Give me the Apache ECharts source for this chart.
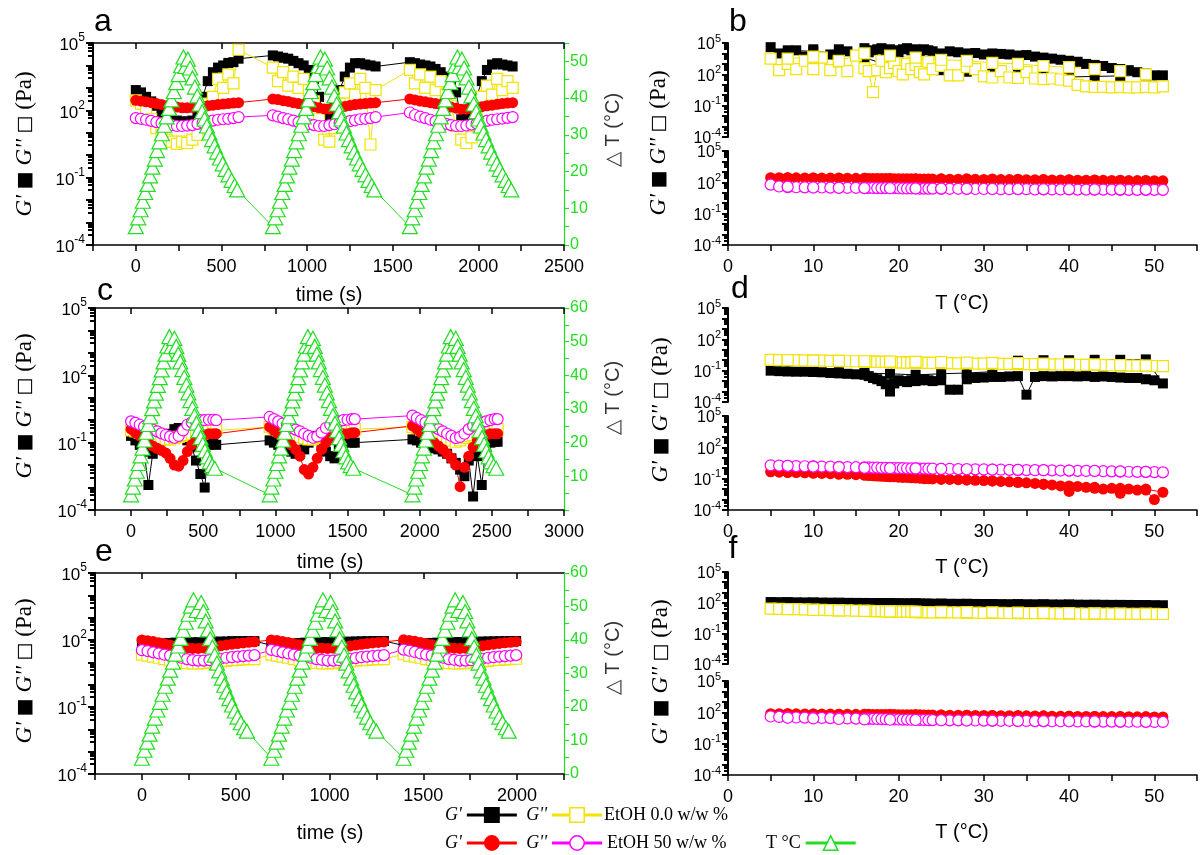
<!DOCTYPE html>
<html>
<head>
<meta charset="utf-8">
<title>G' / G'' temperature cycles</title>
<script src="https://cdn.jsdelivr.net/npm/echarts@6/dist/echarts.min.js"></script>
<style>
  html, body { margin: 0; padding: 0; background: #fff; }
  #chart { width: 1203px; height: 855px; }
</style>
</head>
<body>
<div id="chart"></div>
<script>
// ---------- time sweeps (a, c, e): 3 heating/cooling cycles ----------
// sample times inside a cycle (s) and the start time of each cycle
const timeA = [0,30,60,90,120,150,180,210,240,270,300,330,360,390,420,450,480,510,540,570,600];
const timeC = [0,30,60,90,120,150,180,210,240,270,300,330,360,390,420,450,480,510,540,570,590];
const timeE = [0,30,60,90,120,150,180,210,240,270,300,330,360,390,420,450,480,510,540,570,600];
const cycA = [0, 800, 1600];
const cycC = [0, 960, 1950];
const cycE = [0, 690, 1395];

// panel a (Pa), cycle 1 | cycle 2 | cycle 3
const gp0A = [800,630,400,250,160,80,50,40,35,32,32,35,50,400,2000,5000,8000,1e4,1.3e4,1.4e4,2e4,
  2.8e4,2.5e4,2.2e4,2e4,1.6e4,1.26e4,1e4,6300,2500,400,40,63,250,800,3200,8000,1.26e4,1.26e4,1.1e4,1e4,9000,
  1.4e4,1.26e4,1.1e4,1e4,9000,7000,5000,3200,1600,630,40,50,126,400,2000,6300,1.1e4,1.26e4,1.1e4,1e4,9000];
const gpp0A = [280,200,100,40,16,8,5,4,3.2,4,3.5,5,8,32,200,400,2500,1000,4000,1600,5e4,
  8000,2000,5000,1250,3200,1000,2500,800,250,40,5,4,16,200,630,1600,500,2500,1000,3,800,
  6300,1600,4000,1000,3200,800,2000,500,160,20,5,3.5,6.3,63,400,1250,500,2500,800,2000,1000];
const gp50A = [280,260,240,220,200,180,160,150,140,130,130,135,140,150,160,170,180,190,200,210,220,
  320,300,270,250,220,200,180,160,145,130,115,115,125,140,150,165,180,190,200,210,220,
  320,290,260,240,220,200,180,160,140,125,112,112,120,130,145,160,170,185,200,210,220];
const gpp50A = [45,42,38,34,30,27,25,22,20,20,21,22,25,28,32,35,38,40,42,45,50,
  60,52,45,40,35,30,27,24,22,20,20,22,24,27,30,33,36,40,42,45,50,
  80,62,52,45,38,33,29,25,22,20,20,21,23,26,30,34,38,40,43,46,50];

// panel c (Pa)
const gp0C = [0.2,0.126,0.08,0.04,0.0013,0.032,0.063,0.126,0.16,0.25,0.4,0.45,0.32,0.126,0.063,0.016,0.004,0.001,0.08,0.126,0.08,
  0.126,0.1,0.08,0.063,0.05,0.04,0.032,0.032,0.05,0.1,0.2,0.16,0.08,0.04,0.025,0.02,0.05,0.1,0.11,0.1,0.1,
  0.14,0.126,0.1,0.08,0.063,0.056,0.05,0.04,0.032,0.02,0.0126,0.0063,0.0032,0.016,0.0004,0.025,0.0013,0.063,0.1,0.11,0.11];
const gpp0C = [0.35,0.32,0.28,0.25,0.22,0.2,0.18,0.16,0.14,0.14,0.16,0.18,0.2,0.22,0.25,0.28,0.32,0.32,0.35,0.35,0.35,
  0.5,0.42,0.35,0.32,0.28,0.25,0.2,0.18,0.16,0.14,0.14,0.16,0.18,0.2,0.22,0.25,0.28,0.32,0.35,0.4,0.4,
  0.5,0.45,0.38,0.32,0.28,0.24,0.2,0.17,0.14,0.126,0.11,0.126,0.16,0.19,0.22,0.25,0.28,0.32,0.35,0.38,0.4];
const gp50C = [0.4,0.28,0.2,0.14,0.1,0.071,0.056,0.045,0.035,0.02,0.01,0.009,0.016,0.04,0.08,0.14,0.2,0.22,0.25,0.25,0.25,
  0.5,0.35,0.25,0.16,0.11,0.08,0.05,0.025,0.0063,0.004,0.008,0.02,0.05,0.1,0.16,0.2,0.22,0.25,0.25,0.28,0.28,
  0.56,0.4,0.28,0.2,0.14,0.1,0.071,0.05,0.032,0.02,0.01,0.0011,0.008,0.025,0.063,0.126,0.18,0.22,0.25,0.25,0.25];
const gpp50C = [0.89,0.76,0.63,0.52,0.45,0.38,0.32,0.26,0.22,0.19,0.166,0.2,0.35,0.63,0.8,0.89,1,1,1.05,1.05,1,
  1.4,1.12,0.89,0.71,0.56,0.45,0.38,0.32,0.25,0.2,0.166,0.19,0.28,0.45,0.63,0.8,0.89,1,1.05,1.12,1.12,
  1.6,1.26,1,0.8,0.63,0.5,0.4,0.32,0.25,0.2,0.16,0.18,0.25,0.4,0.56,0.71,0.8,0.89,1,1.12,1.12];

// panel e (Pa)
const gp0E = [56,60,63,66,71,74,76,79,79,79,79,79,83,83,85,85,89,89,89,89,89,
  58,60,63,66,70,73,76,78,80,80,80,80,82,83,84,86,87,88,89,90,90,
  57,61,64,67,70,74,76,78,79,80,81,81,82,83,85,86,87,88,89,90,90];
const gpp0E = [22,20,18,16,14,12.6,11,10,9.3,8.9,8.9,9.3,10,10.5,11,11.7,12.6,13,13.5,14,14,
  22,20,18,16,14,12.5,11,10,9.4,9,9,9.3,10,10.5,11,11.8,12.5,13,13.5,14,14,
  23,20,18,16,14,12.5,11,10,9.3,9,8.9,9.2,9.8,10.4,11,11.6,12.4,13,13.5,14,14.5];
const gp50E = [100,93,85,76,68,60,54,48,45,42,42,44,47,50,55,60,65,69,74,79,83,
  100,94,86,77,68,61,55,49,45,43,42,43,46,50,54,59,64,69,74,78,82,
  102,95,87,78,69,62,55,50,46,43,42,43,46,50,55,60,65,70,75,79,84];
const gpp50E = [35,32,28,25,22,20,18,16,14,12.6,12,12,12.6,13.5,14.5,16,17,18,19,20,21,
  36,32,28,25,22,20,18,16,14,13,12,12,12.5,13.5,14.5,15.5,17,18,19,20,21,
  37,33,29,25,22,20,18,16,14,13,12,12,12.5,13.5,14.5,16,17,18,19,20,21];

// temperature programme of one cycle (relative time s, deltaT °C)
const relTA = [0,14,28,41,55,69,83,97,111,124,138,152,166,180,194,208,222,236,250,264,278,290,304,
  317,331,345,359,373,387,401,415,430,445,460,475,491,507,524,541,559,577,592];
const dTA = [5,7.4,9.6,11.9,14.3,16.5,18.8,21.2,23.4,25.7,28.1,30.3,32.6,34.9,37.2,39.5,41.8,44.2,46.4,48.8,51.2,48.6,50.6,
  48.2,45.5,43.0,40.6,38.4,36.3,34.3,32.4,30.5,28.7,27.0,25.3,23.7,22.1,20.6,19.1,17.6,16.2,15.0];
const relTC = [0,13,26,40,53,66,79,93,106,119,133,146,159,172,186,199,212,225,239,252,265,280,300,
  313,327,341,355,369,383,397,411,425,439,453,467,482,497,512,528,545,562,580];
const dTC = [4.5,6.8,9.2,11.5,13.8,16.1,18.4,20.8,23.1,25.4,27.7,30.1,32.4,34.7,37.0,39.3,41.6,44.0,46.3,48.7,51.5,48.5,51.0,
  48.6,46.3,44.0,41.7,39.4,37.1,34.8,32.5,30.2,28.0,25.8,23.6,21.5,19.5,17.6,15.8,14.3,13.2,12.4];
const relTE = [0,14,28,41,55,69,83,96,110,124,138,151,165,179,193,206,220,234,248,261,275,292,316,
  328,340,352,364,376,388,400,413,426,439,452,466,480,495,510,527,545,560];
const dTE = [4.7,7.1,9.5,11.9,14.3,16.7,19.1,21.4,23.8,26.2,28.6,31.0,33.4,35.8,38.2,40.5,42.9,45.3,47.7,50.1,52.0,48.8,51.2,
  48.5,45.7,43.0,40.4,37.9,35.5,33.1,30.8,28.6,26.5,24.5,22.5,20.6,18.8,17.0,15.3,13.8,12.8];

// ---------- temperature sweeps (b, d, f): heating then cooling ----------
const sweepT = [5,6,7,8,9,10,11,12,13,14,15,16,
  16.5,17,17.5,18,18.5,19,19.5,20,20.5,21,21.5,22,22.5,23,23.5,24,
  25,26,27,28,29,30,31,32,33,34,35,36,37,38,39,40,41,42,43,44,45,46,47,48,49,50,51,
  49,46,43,40,37,34,31,28,25,22,19,16,13,10,7];

const gp0B = [4e4,1e4,4000,2e4,5000,2.5e4,4000,8000,2.5e4,1.6e4,6300,3.2e4,
  1.3e4,2e4,2.5e4,3.2e4,1.6e4,2.5e4,2e4,1.3e4,2.5e4,3.2e4,2e4,2.5e4,1.6e4,2.5e4,2e4,1.6e4,
  1e4,1.6e4,1.3e4,1e4,1.1e4,8000,1e4,9000,8000,6300,7000,5000,4000,3200,2500,2000,1600,1000,800,630,400,320,250,160,126,80,80,
  80,71,63,56,56,89,126,178,250,355,630,4000,1e4,1.6e4,2e4];
const gpp0B = [3200,250,1000,320,2000,320,4000,250,1600,200,6300,400,
  200,2,250,2000,160,400,1250,200,100,1000,320,800,160,100,1600,320,
  630,80,80,500,320,63,50,200,50,45,160,40,35,40,32,25,10,7,6.3,6.3,5.6,6.3,5.6,5.6,6.3,5.6,7,
  100,200,320,500,630,1000,1250,2000,2500,4000,6300,1e4,2000,5000,3200];
const gp50B = [280,275,270,268,265,262,258,255,250,248,245,240,
  238,235,233,230,228,226,224,222,220,218,216,214,212,210,208,206,
  205,200,198,195,192,190,188,185,182,180,178,175,172,170,168,165,162,160,158,155,152,150,148,146,144,142,140,
  150,160,170,180,190,200,210,215,220,225,235,245,255,265,275];
const gpp50B = [60,40,35,34,33,32,32,31,30,30,30,29,
  29,29,28,28,28,27,27,27,26,26,26,26,25,25,25,25,
  24,24,24,23,23,23,23,22,22,22,22,21,21,21,21,21,20,20,20,20,20,19,19,19,19,19,19,
  20,21,21,22,22,23,23,24,25,26,27,28,30,32,38];

const gp0D = [0.1,0.09,0.085,0.08,0.08,0.075,0.07,0.06,0.055,0.05,0.045,0.04,
  0.03,0.02,0.015,0.01,0.005,0.001,0.006,0.012,0.01,0.008,0.012,0.01,0.012,0.015,0.012,0.01,
  0.012,0.0015,0.0015,0.015,0.02,0.022,0.025,0.025,0.028,0.03,0.0005,0.025,0.03,0.028,0.03,0.03,0.028,0.03,0.025,0.028,0.025,0.022,0.02,0.02,0.015,0.012,0.006,
  1.2,1.1,1.1,1.0,1.0,0.9,0.08,0.06,0.05,0.04,0.05,0.06,0.07,0.08,0.09];
const gpp0D = [1.1,1.0,1.0,0.95,0.95,0.9,0.9,0.85,0.85,0.8,0.8,0.75,
  0.75,0.72,0.7,0.7,0.68,0.66,0.65,0.63,0.62,0.6,0.6,0.58,0.57,0.56,0.55,0.55,
  0.53,0.52,0.5,0.5,0.48,0.47,0.46,0.45,0.44,0.43,0.42,0.42,0.4,0.4,0.39,0.38,0.37,0.36,0.35,0.34,0.33,0.32,0.31,0.3,0.29,0.28,0.27,
  0.3,0.34,0.4,0.44,0.48,0.52,0.56,0.6,0.65,0.7,0.75,0.8,0.85,0.9,1.0];
const gp50D = [0.45,0.42,0.4,0.38,0.36,0.34,0.32,0.3,0.28,0.26,0.24,0.22,
  0.2,0.19,0.18,0.17,0.16,0.15,0.15,0.14,0.13,0.13,0.12,0.12,0.11,0.1,0.1,0.095,
  0.09,0.085,0.08,0.075,0.07,0.065,0.06,0.055,0.05,0.045,0.04,0.035,0.03,0.025,0.02,0.006,0.018,0.015,0.012,0.01,0.012,0.004,0.01,0.008,0.008,0.001,0.005,
  0.01,0.012,0.015,0.02,0.03,0.045,0.06,0.075,0.09,0.12,0.16,0.22,0.28,0.34,0.4];
const gpp50D = [1.9,1.8,1.7,1.6,1.55,1.5,1.45,1.4,1.35,1.3,1.25,1.2,
  1.2,1.15,1.15,1.1,1.1,1.05,1.05,1.0,1.0,0.98,0.96,0.95,0.93,0.92,0.9,0.9,
  0.88,0.85,0.82,0.8,0.78,0.76,0.74,0.72,0.7,0.68,0.66,0.65,0.64,0.62,0.6,0.58,0.56,0.55,0.54,0.52,0.5,0.48,0.46,0.45,0.44,0.42,0.4,
  0.45,0.5,0.55,0.6,0.65,0.7,0.75,0.8,0.85,0.95,1.0,1.1,1.3,1.45,1.7];

const gp0F = [115,112,110,108,106,104,102,100,98,96,95,94,
  93,92,91,90,89,88,87,86,85,84,84,83,82,81,80,80,
  79,78,77,76,75,74,73,72,71,70,70,69,68,67,66,65,64,63,62,62,61,60,60,59,58,57,56,
  57,60,62,65,68,71,74,77,80,84,88,92,96,101,108];
const gpp0F = [26,25,24,23,22,21,20,19,18,18,17,16,
  16,15,15,15,14,14,14,13,13,13,13,12,12,12,12,11,
  11,11,11,10.5,10.5,10,10,10,9.8,9.6,9.5,9.3,9.2,9.0,8.9,8.8,8.7,8.6,8.5,8.4,8.3,8.2,8.1,8.0,8.0,7.9,7.8,
  8,8.5,9,9.5,10,10.5,11,12,12.5,13,14,16,18,20,23];
const gp50F = [75,74,73,72,71,70,69,68,67,66,65,64,
  64,63,63,62,62,61,61,60,60,59,59,58,58,57,57,56,
  55,54,53,52,51,50,49,48,47,47,46,45,44,43,43,42,41,41,40,39,39,38,38,37,37,36,36,
  37,39,41,43,46,48,51,54,56,59,62,64,67,70,73];
const gpp50F = [40,36,34,32,31,30,29,28,27,26,25,24.5,
  24,23.5,23,22.5,22,21.5,21,20.5,20,20,19.5,19,19,18.5,18,18,
  17.5,17,17,16.5,16.5,16,16,15.5,15.5,15,15,14.5,14.5,14,14,14,13.5,13.5,13,13,13,12.5,12.5,12.5,12,12,12,
  12.5,13,13.5,14,14.5,15,16,16.5,17.5,18.5,19.5,21,23,26,30];

// axis tick positions
const topTicksA = [0,500,1000,1500,2000,2500];
const topTicksC = [0,500,1000,1500,2000,2500,3000];
const topTicksE = [0,500,1000,1500,2000];

// ---------- styling ----------
const SANS = 'Liberation Sans, Arial, sans-serif';
const SERIF = 'Liberation Serif, Times New Roman, serif';
const BLACK = '#000000', YELLOW = '#f2e400', RED = '#ff0000', MAGENTA = '#ff00ff', GREEN = '#22dd22';

const STYLE = {
  "G'0":  {symbol: 'rect', size: 10, fill: BLACK, stroke: BLACK},
  'G"0':  {symbol: 'rect', size: 11, fill: '#fff', stroke: YELLOW},
  "G'50": {symbol: 'circle', size: 11, fill: RED, stroke: RED},
  'G"50': {symbol: 'circle', size: 11, fill: '#fff', stroke: MAGENTA},
  'T':    {symbol: 'triangle', size: [15, 14], fill: '#fff', stroke: GREEN}
};
const LEGEND_TEXT = {"G'0": "G'", 'G"0': "G''", "G'50": "G'", 'G"50': "G''", 'T': 'T °C'};

function cyclePairs(starts, rel, vals) {
  const out = [];
  starts.forEach((s, k) => rel.forEach((t, i) => out.push([s + t, vals[(k * rel.length + i) % vals.length]])));
  return out;
}
function sweepPairs(vals) { return sweepT.map((t, i) => [t, vals[i]]); }

function line(name, data, xi, yi) {
  const s = STYLE[name];
  return {
    type: 'line', name, data, xAxisIndex: xi, yAxisIndex: yi,
    symbol: s.symbol, symbolSize: s.size, showAllSymbol: true,
    itemStyle: {color: s.fill, borderColor: s.stroke, borderWidth: s.fill === '#fff' ? 1.2 : 0},
    lineStyle: {color: s.stroke, width: 1},
    emphasis: {disabled: true}, animation: false
  };
}

const richBig = {
  b: {fontSize: 17, fontFamily: SANS, color: BLACK, lineHeight: 22, verticalAlign: 'bottom'},
  s: {fontSize: 12, fontFamily: SANS, color: BLACK, lineHeight: 12, verticalAlign: 'top'}
};
const richSmall = {
  b: {fontSize: 16, fontFamily: SANS, color: BLACK, lineHeight: 20, verticalAlign: 'bottom'},
  s: {fontSize: 11, fontFamily: SANS, color: BLACK, lineHeight: 11, verticalAlign: 'top'}
};
function decadeLabel(v) {
  const e = Math.round(Math.log10(v));
  return ((e % 3) + 3) % 3 === 2 ? '{b|10}{s|' + e + '}' : '';
}

function timeAxes(gridIndex, max, topTicks) {
  return [{
    type: 'value', gridIndex, min: -250, max, interval: 250, position: 'bottom',
    axisLine: {onZero: false, lineStyle: {color: BLACK, width: 1.5}},
    axisTick: {length: 6, lineStyle: {color: BLACK, width: 1.5}},
    axisLabel: {fontSize: 18, fontFamily: SANS, color: BLACK, margin: 13,
      formatter: v => (v % 500 === 0 ? String(v) : '')},
    splitLine: {show: false}
  }, {
    type: 'value', gridIndex, min: -250, max, position: 'top',
    axisLine: {onZero: false, lineStyle: {color: BLACK, width: 1.5}},
    axisTick: {inside: true, length: 6, customValues: topTicks, lineStyle: {color: BLACK, width: 1.5}},
    axisLabel: {show: false},
    splitLine: {show: false}
  }];
}
function sweepAxis(gridIndex, show) {
  return {
    type: 'value', gridIndex, min: 0, max: 55, interval: 5, show,
    axisLine: {onZero: false, lineStyle: {color: BLACK, width: 1.5}},
    axisTick: {length: 6, lineStyle: {color: BLACK, width: 1.5}},
    axisLabel: {fontSize: 18, fontFamily: SANS, color: BLACK, margin: 13,
      formatter: v => (v % 10 === 0 ? String(v) : '')},
    splitLine: {show: false}
  };
}
function logAxis(gridIndex, small) {
  return {
    type: 'log', logBase: 10, gridIndex, min: 1e-4, max: 1e5, position: 'left',
    axisLine: {onZero: false, lineStyle: {color: BLACK, width: 2}},
    axisTick: {length: small ? 6 : 7, lineStyle: {color: BLACK, width: 2}},
    minorTick: {show: true, splitNumber: 5, length: small ? 4 : 5, lineStyle: {color: BLACK, width: 2}},
    axisLabel: {margin: small ? 7 : 8, formatter: decadeLabel, rich: small ? richSmall : richBig},
    splitLine: {show: false}, minorSplitLine: {show: false}
  };
}
function tempAxis(gridIndex, max, showZero) {
  return {
    type: 'value', gridIndex, min: 0, max, interval: 5, position: 'right',
    axisLine: {show: true, onZero: false, lineStyle: {color: GREEN, width: 1.2}},
    axisTick: {length: 5, lineStyle: {color: GREEN, width: 1.2}},
    axisLabel: {fontSize: 16, fontFamily: SANS, color: GREEN, margin: 6,
      formatter: v => ((v % 10 === 0 && (showZero || v !== 0)) ? String(v) : '')},
    splitLine: {show: false}
  };
}

function gridBox(left, top, width, height) {
  return {left, top, width, height, containLabel: false, outerBoundsMode: 'none'};
}

function txt(x, y, text, size, font, align) {
  return {type: 'text', x, y, silent: true, z: 100,
    style: {text, fontSize: size, fontFamily: font || SANS, fill: BLACK, align: align || 'center', verticalAlign: 'middle'}};
}
const leftTitleRich = {
  g: {fontFamily: SERIF, fontStyle: 'italic', fontSize: 23, fill: BLACK},
  s: {fontFamily: 'DejaVu Sans', fontSize: 19, fill: BLACK},
  p: {fontFamily: SERIF, fontSize: 23, fill: BLACK}
};
function leftTitle(x, y) {
  return {type: 'text', x, y, rotation: Math.PI / 2, silent: true, z: 100,
    style: {text: "{g|G'} {s|■} {g|G''} {s|□} {p|(Pa)}", rich: leftTitleRich,
      fontSize: 23, fontFamily: SERIF, fill: BLACK, align: 'center', verticalAlign: 'middle'}};
}
function rightTitle(x, y) {
  return {type: 'text', x, y, rotation: Math.PI / 2, silent: true, z: 100,
    style: {text: '△ T (°C)', fontSize: 20, fontFamily: SANS, fill: '#333', align: 'center', verticalAlign: 'middle'}};
}

const legendBase = {
  orient: 'horizontal', align: 'right', itemWidth: 50, itemHeight: 18, itemGap: 8, padding: 0,
  selectedMode: false, lineStyle: {width: 3}, itemStyle: {borderWidth: 1.5},
  textStyle: {fontFamily: SERIF, fontSize: 18, fontStyle: 'italic', color: BLACK},
  formatter: n => LEGEND_TEXT[n]
};

const option = {
  backgroundColor: '#fff',
  animation: false,
  grid: [
    gridBox(93, 43, 471, 202),    // a
    gridBox(728, 43, 469, 94),    // b upper
    gridBox(728, 151, 469, 94),   // b lower
    gridBox(95, 308, 469, 202),   // c
    gridBox(728, 308, 469, 94),   // d upper
    gridBox(728, 416, 469, 94),   // d lower
    gridBox(95, 573, 469, 201),   // e
    gridBox(728, 572, 469, 92),   // f upper
    gridBox(728, 681, 469, 94)    // f lower
  ],
  xAxis: [
    ...timeAxes(0, 2500, topTicksA),   // 0,1
    sweepAxis(1, false), sweepAxis(2, true),   // 2,3
    ...timeAxes(3, 3000, topTicksC),   // 4,5
    sweepAxis(4, false), sweepAxis(5, true),   // 6,7
    ...timeAxes(6, 2250, topTicksE),   // 8,9
    sweepAxis(7, false), sweepAxis(8, true)    // 10,11
  ],
  yAxis: [
    logAxis(0, false), tempAxis(0, 55, true),   // 0,1
    logAxis(1, true), logAxis(2, true),         // 2,3
    logAxis(3, false), tempAxis(3, 60, false),  // 4,5
    logAxis(4, true), logAxis(5, true),         // 6,7
    logAxis(6, false), tempAxis(6, 60, true),   // 8,9
    logAxis(7, true), logAxis(8, true)          // 10,11
  ],
  legend: [
    Object.assign({}, legendBase, {data: ["G'0", 'G"0'], left: 445, top: 806}),
    Object.assign({}, legendBase, {data: ["G'50", 'G"50'], left: 445, top: 834}),
    Object.assign({}, legendBase, {data: ['T'], left: 766, top: 834,
      textStyle: {fontFamily: SERIF, fontSize: 18, color: BLACK}})
  ],
  series: [
    // a
    line("G'0", cyclePairs(cycA, timeA, gp0A), 0, 0),
    line('G"0', cyclePairs(cycA, timeA, gpp0A), 0, 0),
    line("G'50", cyclePairs(cycA, timeA, gp50A), 0, 0),
    line('G"50', cyclePairs(cycA, timeA, gpp50A), 0, 0),
    line('T', cyclePairs(cycA, relTA, dTA), 0, 1),
    // b
    line("G'0", sweepPairs(gp0B), 2, 2),
    line('G"0', sweepPairs(gpp0B), 2, 2),
    line("G'50", sweepPairs(gp50B), 3, 3),
    line('G"50', sweepPairs(gpp50B), 3, 3),
    // c
    line("G'0", cyclePairs(cycC, timeC, gp0C), 4, 4),
    line('G"0', cyclePairs(cycC, timeC, gpp0C), 4, 4),
    line("G'50", cyclePairs(cycC, timeC, gp50C), 4, 4),
    line('G"50', cyclePairs(cycC, timeC, gpp50C), 4, 4),
    line('T', cyclePairs(cycC, relTC, dTC), 4, 5),
    // d
    line("G'0", sweepPairs(gp0D), 6, 6),
    line('G"0', sweepPairs(gpp0D), 6, 6),
    line("G'50", sweepPairs(gp50D), 7, 7),
    line('G"50', sweepPairs(gpp50D), 7, 7),
    // e
    line("G'0", cyclePairs(cycE, timeE, gp0E), 8, 8),
    line('G"0', cyclePairs(cycE, timeE, gpp0E), 8, 8),
    line("G'50", cyclePairs(cycE, timeE, gp50E), 8, 8),
    line('G"50', cyclePairs(cycE, timeE, gpp50E), 8, 8),
    line('T', cyclePairs(cycE, relTE, dTE), 8, 9),
    // f
    line("G'0", sweepPairs(gp0F), 10, 10),
    line('G"0', sweepPairs(gpp0F), 10, 10),
    line("G'50", sweepPairs(gp50F), 11, 11),
    line('G"50', sweepPairs(gpp50F), 11, 11)
  ],
  graphic: [
    txt(103, 22, 'a', 32), txt(738, 22, 'b', 32), txt(105, 291, 'c', 32),
    txt(740, 289, 'd', 32), txt(104, 552, 'e', 32), txt(733, 549, 'f', 32),
    txt(329, 295, 'time (s)', 20), txt(330, 562, 'time (s)', 20), txt(330, 833, 'time (s)', 20),
    txt(962, 303, 'T (°C)', 20), txt(962, 567, 'T (°C)', 20), txt(962, 832, 'T (°C)', 20),
    leftTitle(25, 144), leftTitle(25, 406), leftTitle(25, 671),
    leftTitle(659, 143), leftTitle(661, 410), leftTitle(661, 672),
    rightTitle(613, 130), rightTitle(613, 398), rightTitle(613, 658),
    txt(604, 815, 'EtOH 0.0 w/w %', 18, SERIF, 'left'),
    txt(607, 843, 'EtOH 50 w/w %', 18, SERIF, 'left')
  ]
};

const chart = echarts.init(document.getElementById('chart'));
chart.setOption(option);
</script>
</body>
</html>
